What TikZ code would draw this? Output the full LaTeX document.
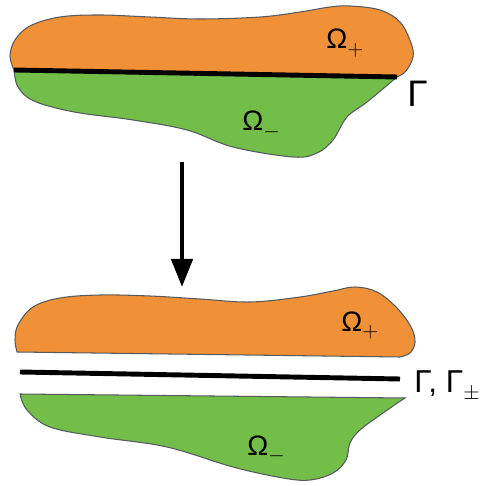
\documentclass[tikz,border=0pt]{standalone}
\usepackage{fontspec}
\setmainfont{Liberation Sans}
\usepackage{xcolor}
\usepackage{tikz}
\usetikzlibrary{arrows.meta}
\definecolor{regionorange}{RGB}{240,145,55}
\definecolor{regiongreen}{RGB}{114,190,72}
\definecolor{outlinegray}{RGB}{85,90,95}
\newcommand{\lowidx}[1]{\raisebox{-0.45ex}{\fontsize{13}{15}\selectfont$#1$}}

\begin{document}
\begin{tikzpicture}[x=0.02cm,y=-0.02cm,
	region/.style={draw=outlinegray,line width=0.6pt},
	interface/.style={line width=2.8pt,color=black},
	omega/.style={anchor=base west,inner sep=0pt,font=\fontsize{16}{18}\selectfont},
	gamma/.style={anchor=base west,inner sep=0pt,font=\fontsize{21}{24}\selectfont}]
	\useasboundingbox (0,0) rectangle (500,486);
	
	% vorher: ein Gebiet, durch Gamma geteilt
	\draw[region,fill=regionorange] (14,70) -- (397,77) -- plot[smooth,tension=0.6] coordinates
		{(397,77) (406,71) (413,57) (411,43) (400,22) (380,10) (350,6) (330,7) (300,12) (260,17) (200,19) (150,17) (100,15) (60,17) (30,26) (15,40) (10,56) (14,70)} -- cycle;
	\draw[region,fill=regiongreen] (14,70) -- (397,77) -- plot[smooth,tension=0.6] coordinates
		{(397,77) (367,102) (347,117) (333,140) (317,153) (293,157) (233,147) (187,130) (133,120) (80,113) (45,105) (27,97) (17,85) (14,70)} -- cycle;
	\draw[interface] (14,70) -- (397,77);
	\node[omega] (opa) at (326,49) {Ω\lowidx{+}};
	\node[omega] (oma) at (242,131) {Ω\lowidx{-}};
	\node[gamma] (ga) at (407,107) {Γ};
	
	\coordinate (arrtop) at (182,162);
	\coordinate (arrtip) at (182,287);
	\draw[line width=2.6pt,-{Triangle[length=16pt,width=12pt]}] (arrtop) -- (arrtip);
	
	% nachher: zwei Gebiete und die Grenzflaeche
	\draw[region,fill=regionorange] (17,352) -- (400,357) -- plot[smooth,tension=0.6] coordinates
		{(400,357) (410,353) (415,342) (411,327) (397,308) (377,292) (355,287) (333,291) (300,297) (250,302) (200,299) (150,296) (100,295) (60,298) (33,307) (18,325) (15,340) (17,352)} -- cycle;
	\draw[interface] (20,372) -- (400,379);
	\draw[region,fill=regiongreen] (20,394) -- (405,398) -- plot[smooth,tension=0.6] coordinates
		{(405,398) (383,413) (360,430) (350,443) (346,460) (333,473) (310,480) (283,478) (233,467) (167,447) (100,437) (50,427) (27,410) (20,394)} -- cycle;
	\node[omega] (opb) at (341,331) {Ω\lowidx{+}};
	\node[omega] (omb) at (247,455) {Ω\lowidx{-}};
	\node[gamma] (gb) at (414,392) {\fontsize{18}{20}\selectfont Γ, Γ\lowidx{\pm}};
\end{tikzpicture}
\end{document}
